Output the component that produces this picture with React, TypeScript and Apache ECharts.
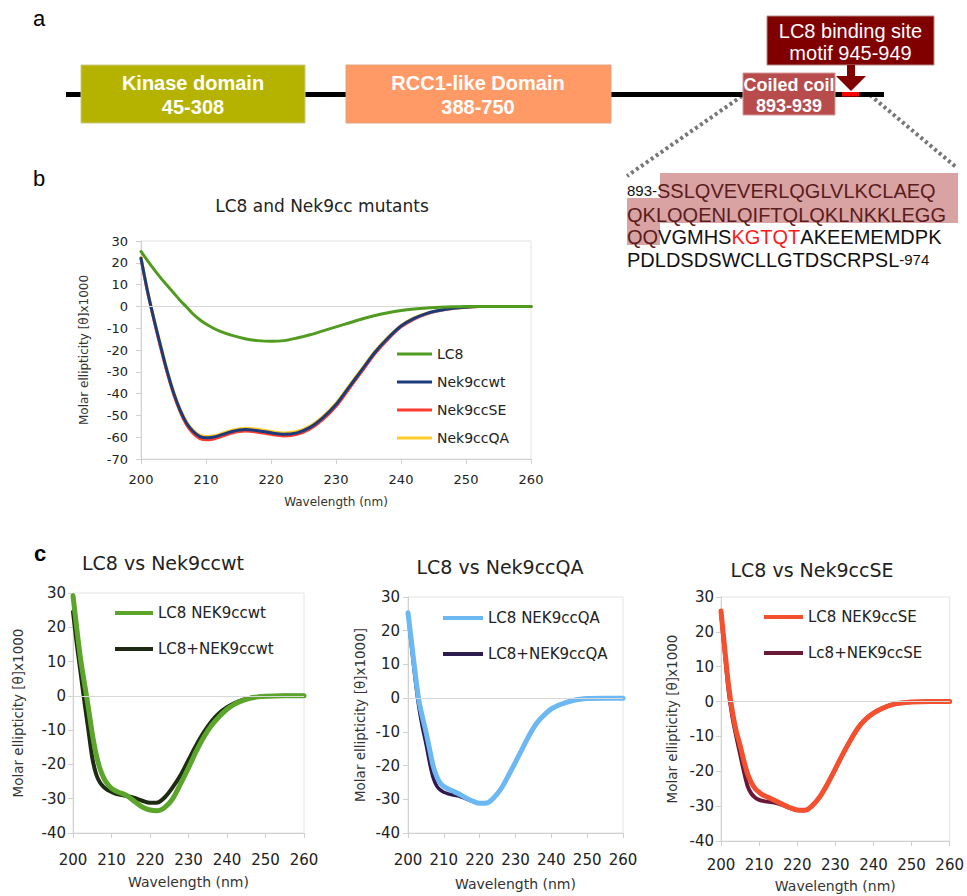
import React, { useEffect, useRef } from "react";
import * as echarts from "echarts";

// ---------- Panel b data ----------
const wlB = [200, 201, 202, 203, 204, 205, 206, 207, 208, 209, 210, 211, 212, 214, 216, 218, 220, 222, 224, 226, 228, 230, 232, 234, 236, 238, 240, 242, 244, 246, 248, 250, 252, 255, 260];
const lc8B = [25.2, 21, 17, 13.2, 9.7, 6.3, 2.8, -0.3, -3.5, -6, -8.1, -9.8, -11.2, -13.3, -14.8, -15.7, -16, -15.7, -14.5, -13, -11.2, -9.4, -7.6, -5.8, -4.2, -2.9, -1.9, -1.2, -0.7, -0.4, -0.2, -0.1, 0, 0, 0];
const wtB = [22.1, 7, -6, -18, -29.5, -39.5, -47.5, -53.5, -57.3, -59.6, -60.3, -60, -59.3, -57.4, -56.5, -57, -58, -58.7, -58, -55.5, -51, -45, -37, -29, -21, -14.5, -9, -5.5, -3.2, -1.8, -0.9, -0.4, -0.1, 0, 0];
const seB = [22.1, 6.7, -6.4, -18.6, -30.1, -40.1, -48.2, -54.3, -58.2, -60.5, -61.2, -60.9, -60.1, -58.1, -57.2, -57.7, -58.7, -59.4, -58.7, -56.2, -51.8, -45.8, -37.8, -29.7, -21.6, -15, -9.4, -5.8, -3.4, -1.9, -1, -0.4, -0.1, 0, 0];
const qaB = [22.4, 7.4, -5.6, -17.4, -28.9, -38.9, -46.9, -52.9, -56.7, -59, -59.7, -59.4, -58.7, -56.8, -55.9, -56.4, -57.4, -58.1, -57.4, -54.9, -50.4, -44.4, -36.5, -28.5, -20.6, -14.1, -8.7, -5.3, -3.1, -1.7, -0.9, -0.4, -0.1, 0, 0];

// ---------- Panel c data ----------
const wlC = [200, 201, 202, 203, 204, 205, 206, 207, 208, 209, 210, 211, 212, 213, 214, 216, 218, 220, 222, 224, 226, 228, 230, 232, 234, 236, 238, 240, 242, 244, 246, 248, 250, 255, 260];
const c1Lc8Nek = [29.2, 19.5, 10.5, 3.5, -3.5, -11, -17, -21.2, -24, -25.8, -27, -27.7, -28.2, -28.6, -29.1, -30.8, -32.4, -33.3, -33.5, -32.4, -29.8, -25.5, -21, -16.2, -12, -8.6, -6, -3.9, -2.4, -1.4, -0.7, -0.3, -0.1, 0, 0];
const c1Complex = [24.5, 15, 6.5, -2, -10, -18, -22.8, -25.3, -26.6, -27.5, -28, -28.5, -28.8, -29, -29.2, -29.8, -30.6, -31.2, -31.1, -29.4, -26.5, -23, -18.7, -14.4, -10.6, -7.4, -5, -3.3, -2.1, -1.2, -0.6, -0.3, -0.1, 0, 0];
const c2Lc8Nek = [25.3, 16.5, 7.5, -0.5, -5.5, -10, -15, -20, -23.2, -25.2, -26.2, -26.8, -27.3, -27.8, -28.3, -29.5, -30.5, -31.2, -31.1, -29.5, -26.8, -23, -19, -14.8, -10.7, -7.3, -5, -3.2, -2.1, -1.3, -0.7, -0.3, -0.1, 0, 0];
const c2Complex = [25, 15, 5.5, -2.5, -8.5, -13.5, -19, -23.5, -26, -27.2, -27.9, -28.3, -28.6, -28.8, -29, -29.8, -30.6, -31.2, -31.1, -29.5, -26.8, -23, -19, -14.8, -10.7, -7.3, -5, -3.2, -2.1, -1.3, -0.7, -0.3, -0.1, 0, 0];
const c3Lc8Nek = [26, 15, 4.5, -3, -8.5, -12.5, -17, -20.8, -23.3, -25, -26, -26.8, -27.3, -27.8, -28.3, -29.4, -30.4, -31.1, -31.2, -29.8, -27.2, -23.5, -19.3, -15, -11, -7.5, -5, -3.3, -2.1, -1.2, -0.6, -0.3, -0.1, 0, 0];
const c3Complex = [25.5, 14, 3, -4.5, -10, -15, -20, -24.3, -26.5, -27.6, -28.2, -28.5, -28.7, -28.8, -29, -29.6, -30.5, -31.1, -31.2, -29.8, -27.2, -23.5, -19.3, -15, -11, -7.5, -5, -3.3, -2.1, -1.2, -0.6, -0.3, -0.1, 0, 0];

const xTicks = { min: 200, max: 260, interval: 10 };
const yTicksB = { min: -70, max: 30, interval: 10 };
const yTicksC = { min: -40, max: 30, interval: 10 };

const titles = ["LC8 and Nek9cc mutants", "LC8 vs Nek9ccwt", "LC8 vs Nek9ccQA", "LC8 vs Nek9ccSE"];
const yName = "Molar ellipticity [θ]x1000";
const yName2 = "Molar ellipticity [θ]x1000]";
const xName = "Wavelength (nm)";

const FONT = "DejaVu Sans";
const AFONT = "Liberation Sans";

function pairs(x: number[], y: number[]) {
  return x.map((v, i) => [v, y[i]]);
}

const zeroLine = {
  silent: true,
  symbol: "none",
  label: { show: false },
  lineStyle: { color: "#d8d8d8", width: 1, type: "solid" },
  data: [{ yAxis: 0 }],
};

function lineSeries(name: string, gi: number, x: number[], y: number[], color: string, width: number, z: number, mark = false) {
  const s: any = {
    name,
    type: "line",
    xAxisIndex: gi,
    yAxisIndex: gi,
    data: pairs(x, y),
    showSymbol: false,
    symbol: "none",
    smooth: 0.3,
    z,
    lineStyle: { color, width, cap: "round", join: "round" },
    itemStyle: { color },
  };
  if (mark) s.markLine = zeroLine;
  return s;
}

function xAxisCfg(gi: number, labelMargin: number, nameGap: number, fs: number, nfs: number) {
  return {
    gridIndex: gi,
    type: "value",
    ...xTicks,
    name: xName,
    nameLocation: "middle",
    nameGap,
    nameTextStyle: { fontSize: nfs, color: "#333", fontFamily: FONT },
    axisLine: { show: true, onZero: false, lineStyle: { color: "#d0d0d0", width: 1 } },
    axisTick: { show: true, length: 5, lineStyle: { color: "#d0d0d0" } },
    axisLabel: { margin: labelMargin, fontSize: fs, color: "#222", fontFamily: FONT },
    splitLine: { show: false },
  };
}

function yAxisCfg(gi: number, ticks: any, name: string, labelMargin: number, nameGap: number, fs: number, nfs: number) {
  return {
    gridIndex: gi,
    type: "value",
    ...ticks,
    name,
    nameLocation: "middle",
    nameGap,
    nameRotate: 90,
    nameTextStyle: { fontSize: nfs, color: "#333", fontFamily: FONT },
    axisLine: { show: true, onZero: false, lineStyle: { color: "#d0d0d0", width: 1 } },
    axisTick: { show: true, length: 5, lineStyle: { color: "#d0d0d0" } },
    axisLabel: { margin: labelMargin, fontSize: fs, color: "#222", fontFamily: FONT },
    splitLine: { show: false },
  };
}

function legendCfg(names: string[], left: number, top: number, iw: number, ih: number, gap: number, fs: number, lh: number) {
  return {
    data: names,
    orient: "vertical",
    left,
    top,
    itemWidth: iw,
    itemHeight: ih,
    itemGap: gap,
    icon: "rect",
    selectedMode: false,
    padding: 0,
    textStyle: { fontSize: fs, lineHeight: lh, color: "#222", fontFamily: FONT },
  };
}

function titleCfg(text: string, cx: number, top: number, fs: number) {
  return {
    text,
    left: cx,
    top,
    textAlign: "center",
    padding: 0,
    textStyle: { fontSize: fs, fontWeight: "normal", color: "#222", fontFamily: FONT },
  };
}

const seqRich = {
  s: { fontSize: 15, fill: "#111", color: "#111", fontFamily: AFONT },
  h: { fontSize: 20, fill: "#5a1c1c", color: "#5a1c1c", fontFamily: AFONT },
  n: { fontSize: 20, fill: "#111", color: "#111", fontFamily: AFONT },
  r: { fontSize: 20, fill: "#ff1a1a", color: "#ff1a1a", fontFamily: AFONT },
};

function txt(x: number, y: number, text: string, font: string, fill: string, align = "center", lineHeight?: number) {
  const style: any = { text, font, fill, align, textAlign: align, verticalAlign: "middle", textVerticalAlign: "middle" };
  if (lineHeight) style.lineHeight = lineHeight;
  return { type: "text", x, y, style, z: 10 };
}

function seqRow(y: number, text: string) {
  return {
    type: "text",
    x: 627,
    y,
    z: 10,
    style: { text, rich: seqRich, align: "left", textAlign: "left", verticalAlign: "middle", textVerticalAlign: "middle", font: `20px "${AFONT}"`, fill: "#111" },
  };
}

const graphicElements: any[] = [
  txt(39, 18, "a", `22px "${AFONT}"`, "#000"),
  txt(39, 178, "b", `22px "${AFONT}"`, "#000"),
  txt(40, 553, "c", `bold 22px "${AFONT}"`, "#000"),
  // backbone line
  { type: "rect", shape: { x: 66, y: 92, width: 818, height: 5 }, style: { fill: "#000" }, z: 5 },
  // kinase
  { type: "rect", shape: { x: 81, y: 65, width: 224, height: 58 }, style: { fill: "#b5b300", stroke: "#c9c98f", lineWidth: 1 }, z: 6 },
  txt(193, 95, "Kinase domain\n45-308", `bold 20px "${AFONT}"`, "#fff", "center", 24),
  // RCC1
  { type: "rect", shape: { x: 346, y: 65, width: 265, height: 58 }, style: { fill: "#ff9966", stroke: "#e3a27f", lineWidth: 1 }, z: 6 },
  txt(478, 95, "RCC1-like Domain\n388-750", `bold 20px "${AFONT}"`, "#fff", "center", 24),
  // coiled coil
  { type: "rect", shape: { x: 743, y: 73, width: 92, height: 42 }, style: { fill: "#b84c4c", stroke: "#d39a9a", lineWidth: 1 }, z: 6 },
  txt(789, 95.5, "Coiled coil\n893-939", `bold 18px "${AFONT}"`, "#fff", "center", 21),
  // red motif
  { type: "rect", shape: { x: 842, y: 92, width: 17, height: 4.5 }, style: { fill: "#ff0000" }, z: 7 },
  // LC8 box
  { type: "rect", shape: { x: 767, y: 16, width: 167, height: 49 }, style: { fill: "#800000", stroke: "#b38a8a", lineWidth: 1 }, z: 6 },
  txt(850.5, 41.5, "LC8 binding site\nmotif 945-949", `20px "${AFONT}"`, "#fff", "center", 22),
  {
    type: "polygon",
    shape: { points: [[847, 65], [855, 65], [855, 76], [866, 76], [851, 91], [836, 76], [847, 76]] },
    style: { fill: "#800000" },
    z: 7,
  },
  // dotted zoom lines
  { type: "line", shape: { x1: 742, y1: 96, x2: 627, y2: 176 }, style: { stroke: "#777", lineWidth: 4, lineDash: [3, 3] }, z: 4 },
  { type: "line", shape: { x1: 870, y1: 95, x2: 956, y2: 167 }, style: { stroke: "#777", lineWidth: 4, lineDash: [3, 3] }, z: 4 },
  // sequence highlight
  { type: "rect", shape: { x: 660, y: 173, width: 298, height: 25 }, style: { fill: "#d9a3a3" }, z: 8 },
  { type: "rect", shape: { x: 627, y: 198, width: 331, height: 25 }, style: { fill: "#d9a3a3" }, z: 8 },
  { type: "rect", shape: { x: 627, y: 223, width: 33, height: 22 }, style: { fill: "#d9a3a3" }, z: 8 },
  seqRow(190.7, "{s|893-}{h|SSLQVEVERLQGLVLKCLAEQ}"),
  seqRow(215, "{h|QKLQQENLQIFTQLQKLNKKLEGG}"),
  seqRow(237, "{h|QQ}{n|VGMHS}{r|KGTQT}{n|AKEEMEMDPK}"),
  seqRow(259.5, "{n|PDLDSDSWCLLGTDSCRPSL}{s|-974}"),
];

export default function App() {
  const ref = useRef<HTMLDivElement>(null);
  useEffect(() => {
    if (!ref.current) return;
    const chart = echarts.init(ref.current, undefined, { renderer: "svg" });
    const gridStyle = { show: true, borderColor: "#e4e4e4", borderWidth: 1, backgroundColor: "transparent" };
    const option: any = {
      animation: false,
      backgroundColor: "#fff",
      title: [
        titleCfg(titles[0], 322, 197, 17),
        titleCfg(titles[1], 163, 553, 19),
        titleCfg(titles[2], 500, 557, 19),
        titleCfg(titles[3], 812, 560, 19),
      ],
      grid: [
        { left: 141, top: 241, width: 390, height: 218, ...gridStyle },
        { left: 73, top: 593, width: 231, height: 240, ...gridStyle },
        { left: 408, top: 597, width: 215, height: 236, ...gridStyle },
        { left: 721, top: 597, width: 231, height: 244, ...gridStyle },
      ],
      xAxis: [
        xAxisCfg(0, 14, 37, 13, 12),
        xAxisCfg(1, 19, 42, 15, 14),
        xAxisCfg(2, 19, 44, 15, 14),
        xAxisCfg(3, 16, 38, 15, 14),
      ],
      yAxis: [
        yAxisCfg(0, yTicksB, yName, 13, 51, 13, 12),
        yAxisCfg(1, yTicksC, yName, 7, 48, 15, 13.5),
        yAxisCfg(2, yTicksC, yName2, 8, 41, 15, 13.5),
        yAxisCfg(3, yTicksC, yName, 7, 42, 15, 13.5),
      ],
      legend: [
        legendCfg(["LC8", "Nek9ccwt", "Nek9ccSE", "Nek9ccQA"], 397, 346, 35, 3, 12, 14, 16),
        legendCfg(["LC8 NEK9ccwt", "LC8+NEK9ccwt"], 115, 604, 38, 4, 18, 15, 18),
        legendCfg(["LC8 NEK9ccQA", "LC8+NEK9ccQA"], 443, 609, 40, 4, 18, 15, 18),
        legendCfg(["LC8 NEK9ccSE", "Lc8+NEK9ccSE"], 764, 608, 39, 4, 18, 15, 18),
      ],
      series: [
        lineSeries("Nek9ccSE", 0, wlB, seB, "#ff3b2f", 3, 2, true),
        lineSeries("Nek9ccQA", 0, wlB, qaB, "#ffcc2a", 3, 3),
        lineSeries("Nek9ccwt", 0, wlB, wtB, "#1c3b7c", 3, 4),
        lineSeries("LC8", 0, wlB, lc8B, "#509b20", 3, 5),

        lineSeries("LC8+NEK9ccwt", 1, wlC, c1Complex, "#1f2a12", 4, 2, true),
        lineSeries("LC8 NEK9ccwt", 1, wlC, c1Lc8Nek, "#5aa52a", 5, 3),

        lineSeries("LC8+NEK9ccQA", 2, wlC, c2Complex, "#2d1b50", 3.5, 2, true),
        lineSeries("LC8 NEK9ccQA", 2, wlC, c2Lc8Nek, "#6cb8f2", 5, 3),

        lineSeries("Lc8+NEK9ccSE", 3, wlC, c3Complex, "#6a1838", 4, 2, true),
        lineSeries("LC8 NEK9ccSE", 3, wlC, c3Lc8Nek, "#f2502e", 5, 3),
      ],
      graphic: { elements: graphicElements },
    };
    chart.setOption(option);
    return () => chart.dispose();
  }, []);
  return <div ref={ref} style={{ position: "absolute", left: 0, top: 0, width: 967, height: 896 }} />;
}
